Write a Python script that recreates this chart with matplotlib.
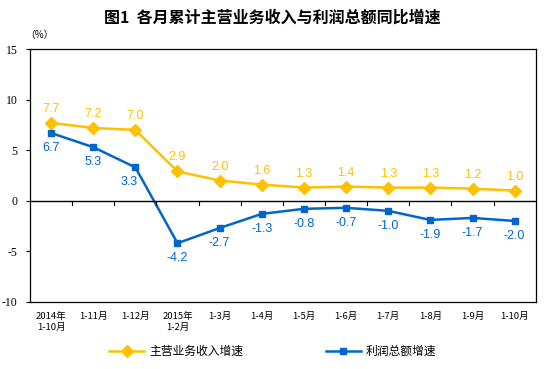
import matplotlib
matplotlib.use("Agg")
import matplotlib.pyplot as plt
import numpy as np

plt.rcParams['font.family'] = ['Noto Sans CJK SC', 'DejaVu Sans']

# data
periods = ['2014年\n1-10月', '1-11月', '1-12月', '2015年\n1-2月', '1-3月', '1-4月',
           '1-5月', '1-6月', '1-7月', '1-8月', '1-9月', '1-10月']
revenue_growth = [7.7, 7.2, 7.0, 2.9, 2.0, 1.6, 1.3, 1.4, 1.3, 1.3, 1.2, 1.0]
profit_growth = [6.7, 5.3, 3.3, -4.2, -2.7, -1.3, -0.8, -0.7, -1.0, -1.9, -1.7, -2.0]
y_ticks = [15, 10, 5, 0, -5, -10]

gold = '#FFC000'
blue = '#0066CC'

fig = plt.figure(figsize=(5.45, 3.69), dpi=100)
ax = fig.add_axes([0.055, 0.182, 0.928, 0.685])

x = np.arange(len(periods))
ax.plot(x, revenue_growth, color=gold, lw=1.8, marker='D', ms=6, label='主营业务收入增速')
ax.plot(x, profit_growth, color=blue, lw=1.8, marker='s', ms=5, label='利润总额增速')

for xi, v in zip(x, revenue_growth):
    ax.annotate(f'{v:.1f}', (xi, v), xytext=(0, 14), textcoords='offset pixels',
                ha='center', va='center', color=gold, fontsize=9, family='Liberation Sans')
for xi, v in zip(x, profit_growth):
    dx = -6 if xi == 2 else 0
    ax.annotate(f'{v:.1f}', (xi, v), xytext=(dx, -15), textcoords='offset pixels',
                ha='center', va='center', color=blue, fontsize=9, family='Liberation Sans')

# zero line with category separators hanging below it
ax.axhline(0, color='black', lw=1)
for b in np.arange(0.5, len(periods) - 1, 1.0):
    ax.plot([b, b], [0, -0.45], color='black', lw=0.8)

ax.set_xlim(-0.5, len(periods) - 0.5)
ax.set_ylim(-10, 15)
ax.set_yticks(y_ticks)
ax.set_yticklabels([str(t) for t in y_ticks], family='Liberation Serif', fontsize=8.5)
ax.tick_params(axis='y', direction='out', length=3, width=0.8, pad=6)
ax.set_xticks(x)
ax.set_xticklabels(periods, fontsize=6.8, linespacing=1.4, va='top')
ax.tick_params(axis='x', length=0, pad=7)
for lab in ax.get_xticklabels():
    lab.set_ha('center')

for s in ax.spines.values():
    s.set_color('black')
    s.set_linewidth(0.9)

fig.text(0.5, 0.952, '图1  各月累计主营业务收入与利润总额同比增速', ha='center', va='center',
         fontsize=11.5, fontweight='bold')
fig.text(0.046, 0.905, '（%）', ha='left', va='center', fontsize=7)

fig.legend(loc='center', bbox_to_anchor=(0.5, 0.047), ncol=2, frameon=False,
           fontsize=8.5, handlelength=3, columnspacing=7, handletextpad=0.4)

fig.savefig('out.png', dpi=100)
